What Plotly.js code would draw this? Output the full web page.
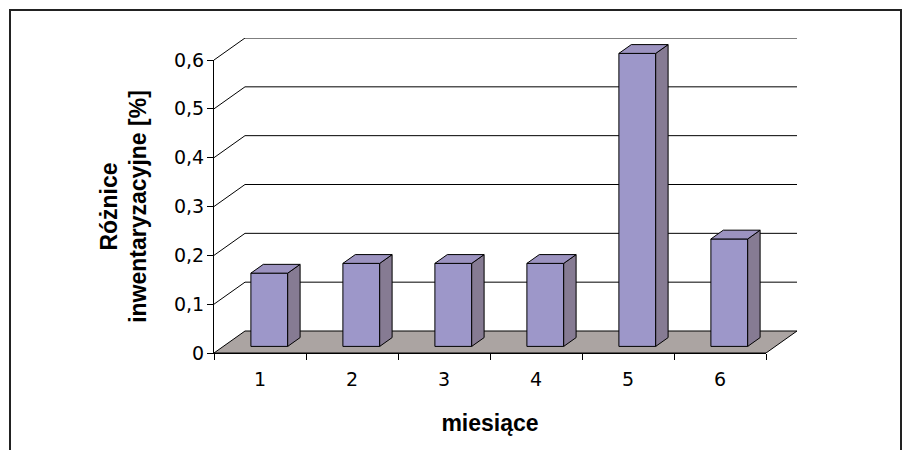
<!DOCTYPE html>
<html>
<head>
<meta charset="utf-8">
<script src="https://cdn.plot.ly/plotly-3.0.1.min.js"></script>
<style>
  html, body { margin: 0; padding: 0; background: #ffffff; }
  #chart { width: 906px; height: 450px; }
</style>
</head>
<body>
<div id="chart"></div>
<script>
// Monthly inventory differences [%]
const months = ['1', '2', '3', '4', '5', '6'];
const diffs = [0.15, 0.17, 0.17, 0.17, 0.6, 0.22];
const yTicks = [0, 0.1, 0.2, 0.3, 0.4, 0.5, 0.6];
const yTickText = ['0', '0,1', '0,2', '0,3', '0,4', '0,5', '0,6'];

// Page geometry (pixels)
const W = 906, H = 450;
const axLeft = 214, axRight = 766, axBase = 353, axTop = 60;
const depthPx = { x: 31, y: 22 };           // pseudo-3D depth offset of back wall
const nCat = months.length;
const yMax = yTicks[yTicks.length - 1];

const pxPerCat = (axRight - axLeft) / nCat;
const pxPerUnit = (axBase - axTop) / yMax;
const DX = depthPx.x / pxPerCat;             // depth in category units
const DY = depthPx.y / pxPerUnit;            // depth in value units

// map (category position, value, depth fraction) into the drawing axes
function P(c, v, d) { return [c + d * DX, v + d * DY]; }
function poly(pts) {
  const xs = [], ys = [];
  pts.forEach(p => { xs.push(p[0]); ys.push(p[1]); });
  xs.push(pts[0][0]); ys.push(pts[0][1]);
  return { x: xs, y: ys };
}
function faceTrace(pts, color) {
  const p = poly(pts);
  return {
    type: 'scatter', mode: 'lines', x: p.x, y: p.y,
    fill: 'toself', fillcolor: color,
    line: { color: '#000000', width: 1 },
    hoverinfo: 'skip', showlegend: false, xaxis: 'x', yaxis: 'y'
  };
}

const traces = [];
const c0 = 0.5, c1 = nCat + 0.5;

// floor
traces.push(faceTrace([P(c0, 0, 0), P(c1, 0, 0), P(c1, 0, 1), P(c0, 0, 1)], '#ABA4A2'));

// gridlines: diagonal from the front axis, then along the back wall
const gx = [], gy = [];
yTicks.slice(1).forEach(t => {
  const a = P(c0, t, 0), b = P(c0, t, 1), e = P(c1, t, 1);
  gx.push(a[0], b[0], e[0], null);
  gy.push(a[1], b[1], e[1], null);
});
traces.push({
  type: 'scatter', mode: 'lines', x: gx, y: gy,
  line: { color: '#000000', width: 1 },
  hoverinfo: 'skip', showlegend: false, xaxis: 'x', yaxis: 'y'
});

// bars: front, side and top faces
const hw = 0.2, d0 = 0.3, d1 = 0.7;
diffs.forEach((v, i) => {
  const c = i + 1;
  traces.push(faceTrace([P(c - hw, 0, d0), P(c + hw, 0, d0), P(c + hw, v, d0), P(c - hw, v, d0)], '#9D97C9'));
  traces.push(faceTrace([P(c + hw, 0, d0), P(c + hw, 0, d1), P(c + hw, v, d1), P(c + hw, v, d0)], '#867B93'));
  traces.push(faceTrace([P(c - hw, v, d0), P(c + hw, v, d0), P(c + hw, v, d1), P(c - hw, v, d1)], '#9C93C0'));
});

// carrier for the labelled front axes
traces.push({
  type: 'scatter', mode: 'markers', x: months, y: diffs,
  marker: { opacity: 0, size: 1 }, hoverinfo: 'skip', showlegend: false,
  xaxis: 'x2', yaxis: 'y2'
});

const tickFont = "'DejaVu Sans', Verdana, sans-serif";
const titleFont = "'Liberation Sans', Arial, sans-serif";
const drawRight = axLeft + (nCat + DX) * pxPerCat;
const drawTop = axBase - (yMax + DY) * pxPerUnit;

const layout = {
  width: W, height: H,
  margin: { l: 0, r: 0, t: 0, b: 0 },
  paper_bgcolor: '#ffffff',
  plot_bgcolor: 'rgba(0,0,0,0)',
  showlegend: false,
  font: { family: tickFont, size: 20, color: '#000000' },
  xaxis: {
    domain: [axLeft / W, drawRight / W], range: [c0, c1 + DX],
    visible: false, fixedrange: true
  },
  yaxis: {
    domain: [(H - axBase) / H, (H - drawTop) / H], range: [0, yMax + DY],
    visible: false, fixedrange: true
  },
  xaxis2: {
    type: 'category', categoryorder: 'array', categoryarray: months,
    domain: [axLeft / W, axRight / W], range: [-0.5, nCat - 0.5],
    anchor: 'y2', showline: true, linecolor: '#000000', linewidth: 1,
    ticks: 'outside', tickson: 'boundaries', ticklen: 6, tickcolor: '#000000',
    ticklabelstandoff: 9,
    showgrid: false, zeroline: false, fixedrange: true,
    tickfont: { family: tickFont, size: 19, color: '#000000' },
    title: { text: '<b>miesiące</b>', font: { family: titleFont, size: 23, color: '#000000' }, standoff: 26 }
  },
  yaxis2: {
    domain: [(H - axBase) / H, (H - axTop) / H], range: [0, yMax],
    anchor: 'x2', showline: true, linecolor: '#000000', linewidth: 1,
    ticks: 'outside', ticklen: 6, tickcolor: '#000000',
    ticklabelstandoff: -1,
    tickvals: yTicks, ticktext: yTickText,
    showgrid: false, zeroline: false, fixedrange: true,
    tickfont: { family: tickFont, size: 19, color: '#000000' },
    title: { text: '<b>Różnice<br>inwentaryzacyjne [%]</b>', font: { family: titleFont, size: 23, color: '#000000' }, standoff: 20 }
  },
  shapes: [{
    type: 'rect', xref: 'paper', yref: 'paper',
    x0: 10 / W, x1: 901 / W, y0: -0.1, y1: (H - 10) / H,
    line: { color: '#222222', width: 2 }, fillcolor: 'rgba(0,0,0,0)', layer: 'above'
  }]
};

Plotly.newPlot('chart', traces, layout, { staticPlot: true, displayModeBar: false });
</script>
</body>
</html>
